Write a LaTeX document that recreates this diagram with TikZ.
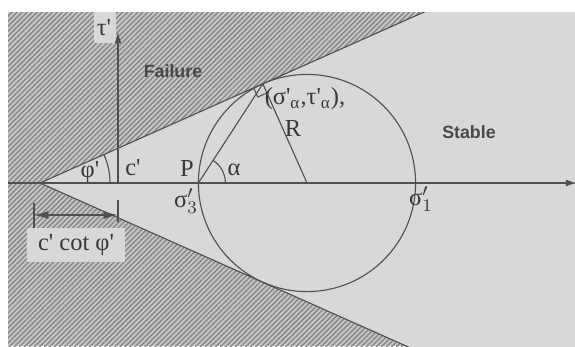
\documentclass[tikz,border=0pt]{standalone}
\usepackage{fontspec}
\setmainfont{Liberation Serif}
\newfontfamily\zonefont{Liberation Sans}
\usetikzlibrary{arrows.meta,calc,patterns.meta}

\definecolor{paper}{RGB}{214,216,217}
\definecolor{hatchbase}{RGB}{196,197,198}
\definecolor{hatchline}{RGB}{128,129,130}
\definecolor{ink}{RGB}{80,80,82}
\newcommand{\pr}{\textquotesingle}

\tikzset{
  lbl/.style={text=ink!70!black,inner sep=0pt,font=\fontsize{11}{13}\selectfont},
  zone/.style={text=ink!90!black,inner sep=0pt,font=\zonefont\bfseries\fontsize{8}{10}\selectfont},
  lightbox/.style={fill=paper,inner sep=0pt},
  hatched/.style={pattern={Lines[angle=45,distance=1.6pt,line width=.55pt]},pattern color=hatchline},
  tip/.style={-{Latex[length=5pt,width=3pt]}}
}

\begin{document}
\begin{tikzpicture}[x=.45pt,y=-.45pt,line width=.5pt]
  \useasboundingbox (0,0) rectangle (575,346);
  \clip (0,0) rectangle (575,346);
  \fill[white] (0,0) rectangle (575,346);
  \path (8,12) coordinate (tl) (575,346) coordinate (br)
        (40,183) coordinate (O) (118,183) coordinate (A) (307,183) coordinate (C)
        ($(C)+(-114:108.6)$) coordinate (T)
        ($(C)+(180:108.6)$) coordinate (S3)
        ($(C)+(0:108.6)$) coordinate (S1);
  \begin{scope}
    \clip (tl) rectangle (br);
    \fill[hatchbase] (tl) rectangle (br);
    \fill[hatched] (tl) rectangle (br);
    \fill[paper] (O) -- ($(O)+(-24:640)$) coordinate (E1)
                     -- ($(O)+(24:640)$) coordinate (E2) -- cycle;
    \draw[ink] (E1) -- (O) -- (E2);
  \end{scope}

  \node[lightbox,minimum width=10pt,minimum height=14pt] (taubox) at (105,27.5) {};
  \node[lbl] (tau) at (104,28) {τ\pr};
  \node[lightbox,minimum width=44pt,minimum height=15.5pt] (dimbox) at (76,245) {};
  \node[lbl] (dim) at (dimbox) {c\pr\ cot φ\pr};

  \draw[ink,tip] (8,183) coordinate (L) -- (577,183) coordinate (R);
  \draw[ink,tip] (A) -- (118,32) coordinate (Y);
  \draw[ink] (34,203) coordinate (k1) -- (34,228) coordinate (k2)
             (118,200) coordinate (k3) -- (118,222) coordinate (k4);
  \draw[ink,{Latex[length=6.5pt,width=3.6pt]}-{Latex[length=6.5pt,width=3.6pt]}]
       (34,215) coordinate (D1) -- (118,215) coordinate (D2);

  \draw[ink] (C) circle[radius=108.6];
  \draw[ink] (S3) -- (T) -- (C);
  \path ($(T)!4.5pt!(O)$) coordinate (Ra) ($(T)!4.5pt!(C)$) coordinate (Rb);
  \draw[ink] (Ra) -- ($(Ra)+(Rb)-(T)$) -- (Rb);
  \draw[ink] (S3) ++(27,0) arc[start angle=0,end angle=-57,radius=27];
  \draw[ink] (O) ++(70,0) arc[start angle=0,end angle=-24,radius=70];

  \node[lbl] (phi) at (90,172) {φ\pr};
  \node[lbl] (c) at (133,168) {c\pr};
  \node[lbl] (P) at (187,168) {P};
  \node[lbl] (alpha) at (234,170) {α};
  \node[lbl] (s3) at (186,201) {σ$'_3$};
  \node[lbl] (s1) at (421,199) {σ$'_1$};
  \node[lbl] (pt) at (305,99) {(σ\pr\textsubscript{α},τ\pr\textsubscript{α}),};
  \node[lbl] (Rlbl) at (293,128) {R};
  \node[lbl] (sig) at (583,171) {σ\pr};
  \node[zone] (fail) at (173,71) {Failure};
  \node[zone] (stab) at (469,132) {Stable};
\end{tikzpicture}
\end{document}
